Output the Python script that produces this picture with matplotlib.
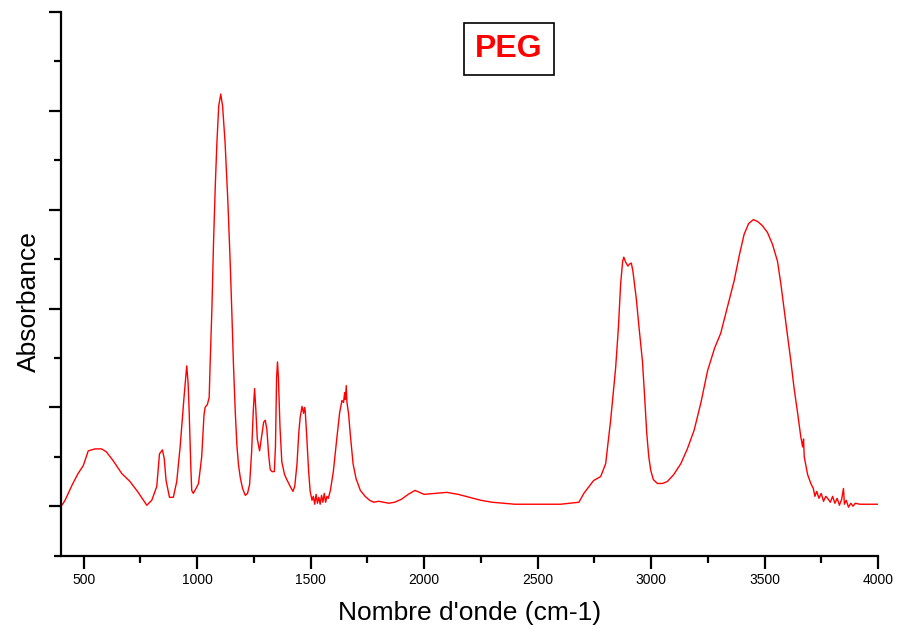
import matplotlib
matplotlib.use("Agg")
import matplotlib.pyplot as plt
from matplotlib.ticker import MultipleLocator, NullFormatter

plt.rcParams['font.family'] = ['Liberation Sans', 'DejaVu Sans']

wavenumber = [400, 410, 420, 432, 450, 475, 498, 520, 550, 579, 600, 630, 668, 704, 740, 778,
              800, 822, 834, 847, 855, 863, 878, 895, 910, 925, 942, 954, 960, 965, 972, 976,
              983, 995, 1006, 1020, 1030, 1035, 1045, 1053, 1057, 1065, 1072, 1080, 1087, 1095,
              1104, 1112, 1123, 1135, 1145, 1153, 1160, 1168, 1175, 1182, 1190, 1200, 1212,
              1222, 1231, 1240, 1247, 1253, 1258, 1265, 1275, 1285, 1293, 1300, 1307, 1315,
              1322, 1330, 1340, 1345, 1350, 1354, 1358, 1365, 1373, 1385, 1395, 1410, 1422,
              1430, 1440, 1448, 1454, 1462, 1469, 1473, 1476, 1483, 1491, 1498, 1506, 1512,
              1518, 1524, 1530, 1536, 1542, 1548, 1554, 1560, 1566, 1572, 1578, 1587, 1600,
              1616, 1628, 1638, 1645, 1650, 1653, 1657, 1660, 1667, 1675, 1687, 1700, 1719,
              1740, 1760, 1778, 1800, 1844, 1870, 1900, 1930, 1960, 1980, 2000, 2050, 2100,
              2150, 2200, 2250, 2300, 2350, 2400, 2500, 2601, 2682, 2704, 2747, 2778, 2800,
              2822, 2844, 2856, 2866, 2875, 2880, 2888, 2898, 2905, 2913, 2920, 2935, 2947,
              2962, 2972, 2981, 2990, 2999, 3010, 3028, 3050, 3072, 3100, 3131, 3160, 3190,
              3220, 3249, 3280, 3307, 3335, 3366, 3390, 3410, 3430, 3451, 3470, 3490, 3513,
              3535, 3557, 3572, 3587, 3600, 3616, 3630, 3646, 3660, 3668, 3672, 3675, 3690,
              3704, 3715, 3722, 3730, 3740, 3750, 3760, 3770, 3778, 3790, 3800, 3810, 3820,
              3830, 3840, 3848, 3852, 3860, 3870, 3880, 3890, 3900, 3920, 3950, 4000]

absorbance = [0.00, 0.03, 0.07, 0.13, 0.22, 0.33, 0.41, 0.56, 0.58, 0.58, 0.55, 0.46, 0.33, 0.25,
              0.14, 0.01, 0.06, 0.20, 0.53, 0.57, 0.48, 0.26, 0.09, 0.09, 0.25, 0.60, 1.10, 1.42,
              1.25, 0.94, 0.40, 0.16, 0.13, 0.18, 0.23, 0.50, 0.92, 1.00, 1.03, 1.10, 1.43, 2.00,
              2.66, 3.25, 3.68, 4.05, 4.17, 4.05, 3.68, 3.10, 2.50, 1.95, 1.43, 0.95, 0.62, 0.42,
              0.29, 0.18, 0.11, 0.13, 0.22, 0.55, 0.95, 1.19, 1.00, 0.68, 0.56, 0.72, 0.85, 0.87,
              0.78, 0.52, 0.37, 0.35, 0.35, 0.60, 1.30, 1.46, 1.30, 0.80, 0.45, 0.32, 0.27, 0.20,
              0.15, 0.20, 0.43, 0.75, 0.90, 1.01, 0.94, 1.00, 0.97, 0.70, 0.36, 0.15, 0.06, 0.10,
              0.02, 0.12, 0.03, 0.09, 0.02, 0.11, 0.04, 0.13, 0.04, 0.10, 0.08, 0.16, 0.35, 0.70,
              0.95, 1.07, 1.05, 1.15, 1.08, 1.22, 1.05, 0.94, 0.72, 0.43, 0.28, 0.16, 0.10, 0.06,
              0.04, 0.05, 0.03, 0.04, 0.07, 0.12, 0.16, 0.14, 0.12, 0.13, 0.14, 0.12, 0.09, 0.06,
              0.04, 0.03, 0.02, 0.02, 0.02, 0.04, 0.13, 0.26, 0.30, 0.43, 0.87, 1.40, 1.80, 2.25,
              2.48, 2.52, 2.47, 2.43, 2.45, 2.46, 2.38, 2.10, 1.81, 1.47, 1.10, 0.74, 0.50, 0.36,
              0.27, 0.23, 0.23, 0.25, 0.32, 0.43, 0.58, 0.77, 1.05, 1.37, 1.60, 1.75, 2.00, 2.28,
              2.55, 2.75, 2.86, 2.90, 2.88, 2.84, 2.77, 2.65, 2.48, 2.25, 1.98, 1.75, 1.47, 1.20,
              0.94, 0.70, 0.60, 0.68, 0.50, 0.32, 0.23, 0.18, 0.10, 0.15, 0.08, 0.13, 0.05, 0.10,
              0.08, 0.04, 0.10, 0.03, 0.08, 0.01, 0.07, 0.18, 0.02, 0.06, -0.01, 0.03, 0.00, 0.03,
              0.02, 0.02, 0.02]

title_text = "PEG"
x_label = "Nombre d'onde (cm-1)"
y_label = "Absorbance"

fig = plt.figure(figsize=(8.97, 6.35), dpi=100)
ax = fig.add_axes([0.068, 0.125, 0.9108, 0.856])

ax.plot(wavenumber, absorbance, color='#ff0000', linewidth=1.0)

ax.set_xlim(400, 4000)
ax.set_ylim(-0.5, 5.0)

ax.spines['top'].set_visible(False)
ax.spines['right'].set_visible(False)
for s in ['left', 'bottom']:
    ax.spines[s].set_linewidth(1.6)

ax.xaxis.set_major_locator(MultipleLocator(500))
ax.xaxis.set_minor_locator(MultipleLocator(250))
ax.yaxis.set_major_locator(MultipleLocator(1))
ax.yaxis.set_minor_locator(MultipleLocator(0.5))
ax.yaxis.set_major_formatter(NullFormatter())

ax.tick_params(axis='both', which='major', direction='out', length=9, width=1.6,
               labelsize=10, pad=3.5)
ax.tick_params(axis='both', which='minor', direction='out', length=5, width=1.6)

ax.set_xlabel(x_label, fontsize=19, labelpad=10)
ax.set_ylabel(y_label, fontsize=19)
ax.yaxis.set_label_coords(-0.0245, 0.468)

ax.text(0.548, 0.932, title_text, transform=ax.transAxes, ha='center', va='center',
        fontsize=23, fontweight='bold', color='#ff0000',
        bbox=dict(boxstyle='square,pad=0.35', facecolor='white', edgecolor='black', linewidth=1.2))

fig.savefig('out.png', dpi=100)
